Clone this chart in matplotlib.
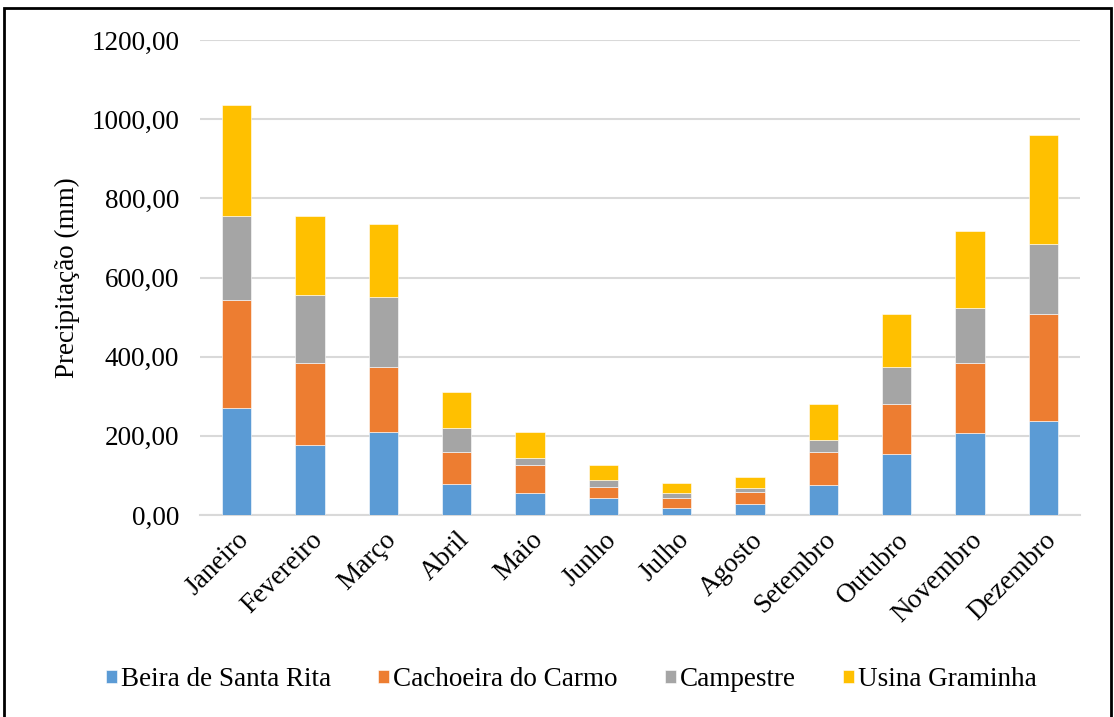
import matplotlib
matplotlib.use("Agg")
import matplotlib.pyplot as plt
from matplotlib.patches import Rectangle
from matplotlib.ticker import FuncFormatter
import numpy as np

meses = ["Janeiro", "Fevereiro", "Março", "Abril", "Maio", "Junho",
         "Julho", "Agosto", "Setembro", "Outubro", "Novembro", "Dezembro"]

beira_santa_rita = [271, 176, 210, 79, 55, 42, 18, 29, 75, 153, 206, 237]
cachoeira_carmo = [273, 207, 163, 81, 71, 30, 24, 30, 85, 128, 179, 272]
campestre = [212, 174, 177, 60, 17, 17, 13, 10, 30, 94, 138, 175]
usina_graminha = [281, 198, 185, 91, 67, 37, 27, 27, 91, 134, 195, 276]

series = [
    ("Beira de Santa Rita", beira_santa_rita, "#5B9BD5"),
    ("Cachoeira do Carmo", cachoeira_carmo, "#ED7D31"),
    ("Campestre", campestre, "#A5A5A5"),
    ("Usina Graminha", usina_graminha, "#FFC000"),
]

plt.rcParams["font.family"] = ["Liberation Serif", "DejaVu Serif"]
FS = 19.5

fig = plt.figure(figsize=(11.14, 7.17), dpi=100)
ax = fig.add_axes([0.1795, 0.2817, 0.790, 0.6625])

x = np.arange(len(meses))
base = np.zeros(len(meses))
for nome, vals, cor in series:
    vals = np.array(vals, dtype=float)
    ax.bar(x, vals, width=0.4, bottom=base, color=cor, label=nome,
           edgecolor="white", linewidth=0.4, zorder=3)
    base += vals

ax.set_xlim(-0.5, len(meses) - 0.5)
ax.set_ylim(0, 1200)
ax.set_yticks(np.arange(0, 1201, 200))
ax.yaxis.set_major_formatter(FuncFormatter(lambda v, p: f"{v:.2f}".replace(".", ",")))
ax.grid(axis="y", color="#d9d9d9", linewidth=1.5, zorder=0)
ax.set_axisbelow(True)
for s in ["top", "right", "left"]:
    ax.spines[s].set_visible(False)
ax.spines["bottom"].set_color("#d9d9d9")
ax.spines["bottom"].set_linewidth(1.5)
ax.tick_params(axis="both", length=0, labelsize=FS, colors="black")
ax.tick_params(axis="y", pad=15)
ax.set_xticks(x)
ax.set_xticklabels(meses, rotation=45, ha="right", rotation_mode="anchor")
ax.tick_params(axis="x", pad=9)
ax.set_ylabel("Precipitação (mm)", fontsize=FS, labelpad=8)

fig.legend(loc="center", bbox_to_anchor=(0.513, 0.052), ncol=4, frameon=False,
           fontsize=FS, handlelength=0.4, handleheight=0.4, handletextpad=0.15,
           columnspacing=1.75)

fig.patches.append(Rectangle((4 / 1114, -0.01), 1107 / 1114, 1 - 8 / 717 + 0.01,
                             transform=fig.transFigure, fill=False,
                             edgecolor="black", linewidth=2))

fig.savefig("out.png", dpi=100)
